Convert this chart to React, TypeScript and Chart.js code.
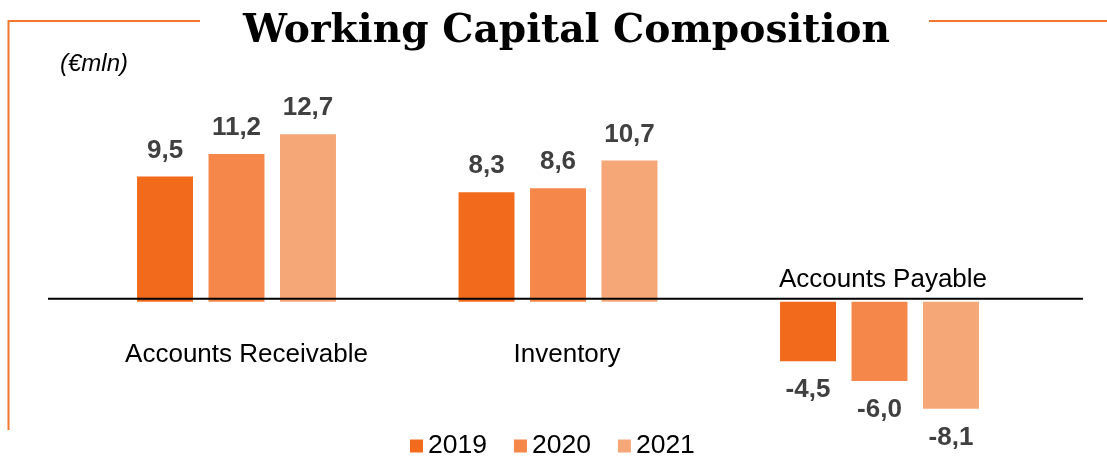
import React, { useEffect, useRef } from "react";
import { Chart, registerables } from "chart.js";

Chart.register(...registerables);

// ---- data ----
const categories = ["Accounts Receivable", "Inventory", "Accounts Payable"];
const seriesLabels = ["2019", "2020", "2021"];
const values2019 = [9.5, 8.3, -4.5];
const values2020 = [11.2, 8.6, -6.0];
const values2021 = [12.7, 10.7, -8.1];
const titleText = "Working Capital Composition";
const unitText = "(€mln)";

// ---- styles ----
const seriesColors = ["#F26A1B", "#F5874A", "#F6A777"];
const frameColor = "#F4772E";
const valueColor = "#404040";
// category label placement relative to group centre / zero line
const catLabelDx = [10, 9, 3.5];
const catLabelDy = [53, 53, -22];

const fmt = (v: number) => v.toFixed(1).replace(".", ",");

const decorPlugin = {
  id: "decor",
  beforeDraw(chart: any) {
    const ctx = chart.ctx;
    ctx.save();
    ctx.strokeStyle = frameColor;
    ctx.lineWidth = 2;
    ctx.beginPath();
    ctx.moveTo(8.5, 430);
    ctx.lineTo(8.5, 21);
    ctx.lineTo(200, 21);
    ctx.moveTo(929, 21);
    ctx.lineTo(1107, 21);
    ctx.stroke();

    // title fitted to the reference width
    ctx.fillStyle = "#000";
    ctx.font = "bold 40px 'DejaVu Serif'";
    const w40 = ctx.measureText(titleText).width;
    const size = Math.max(30, Math.min(50, (40 * 647) / w40));
    ctx.font = `bold ${size.toFixed(1)}px 'DejaVu Serif'`;
    ctx.textAlign = "center";
    ctx.textBaseline = "alphabetic";
    ctx.fillText(titleText, 566.5, 42);

    ctx.font = "italic 24px 'Liberation Sans'";
    ctx.textAlign = "left";
    ctx.fillText(unitText, 60, 71);

    // legend
    ctx.textBaseline = "middle";
    ctx.font = "26.5px 'Liberation Sans'";
    let x = 410;
    const yMid = 446;
    chart.data.datasets.forEach((ds: any) => {
      ctx.fillStyle = ds.backgroundColor;
      ctx.fillRect(x, yMid - 6.5, 13, 13);
      ctx.fillStyle = "#000";
      ctx.fillText(ds.label, x + 18, yMid);
      x += 18 + ctx.measureText(ds.label).width + 27;
    });
    ctx.restore();
  },
  afterDatasetsDraw(chart: any) {
    const ctx = chart.ctx;
    const yScale = chart.scales.y;
    const xScale = chart.scales.x;
    const zero = yScale.getPixelForValue(0);
    ctx.save();
    // zero line
    ctx.strokeStyle = "#000";
    ctx.lineWidth = 2;
    ctx.beginPath();
    ctx.moveTo(48, zero - 3);
    ctx.lineTo(1083, zero - 3);
    ctx.stroke();

    // value labels
    ctx.font = "bold 26px 'Liberation Sans'";
    ctx.fillStyle = valueColor;
    ctx.textAlign = "center";
    ctx.textBaseline = "middle";
    chart.data.datasets.forEach((ds: any, i: number) => {
      const meta = chart.getDatasetMeta(i);
      meta.data.forEach((bar: any, j: number) => {
        const v = ds.data[j] as number;
        const y = v >= 0 ? bar.y - 26 : bar.y + 29;
        ctx.fillText(fmt(v), bar.x, y);
      });
    });

    // category labels
    ctx.font = "26px 'Liberation Sans'";
    ctx.fillStyle = "#000";
    categories.forEach((c, j) => {
      const x = xScale.getPixelForValue(j) + catLabelDx[j];
      ctx.fillText(c, x, zero + catLabelDy[j]);
    });
    ctx.restore();
  },
};

export default function App() {
  const ref = useRef<HTMLCanvasElement | null>(null);
  useEffect(() => {
    if (!ref.current) return;
    const datasets = [values2019, values2020, values2021].map((d, i) => ({
      label: seriesLabels[i],
      data: d,
      backgroundColor: seriesColors[i],
      borderWidth: 0,
      categoryPercentage: 0.667,
      barPercentage: 0.783,
    }));
    const chart = new Chart(ref.current, {
      type: "bar",
      data: { labels: categories, datasets },
      options: {
        animation: false,
        responsive: false,
        devicePixelRatio: 1,
        layout: { padding: { top: 117, left: 75.75, right: 66.75, bottom: 45 } },
        scales: {
          x: { display: false, grid: { display: false } },
          y: { display: false, min: -8.5, max: 14, grid: { display: false } },
        },
        plugins: {
          tooltip: { enabled: false },
          title: { display: false },
          legend: { display: false },
        },
      },
      plugins: [decorPlugin],
    } as any);
    return () => chart.destroy();
  }, []);
  return (
    <div style={{ position: "absolute", left: 0, top: 0, width: 1107, height: 459 }}>
      <canvas ref={ref} width={1107} height={459} style={{ width: 1107, height: 459 }} />
    </div>
  );
}
